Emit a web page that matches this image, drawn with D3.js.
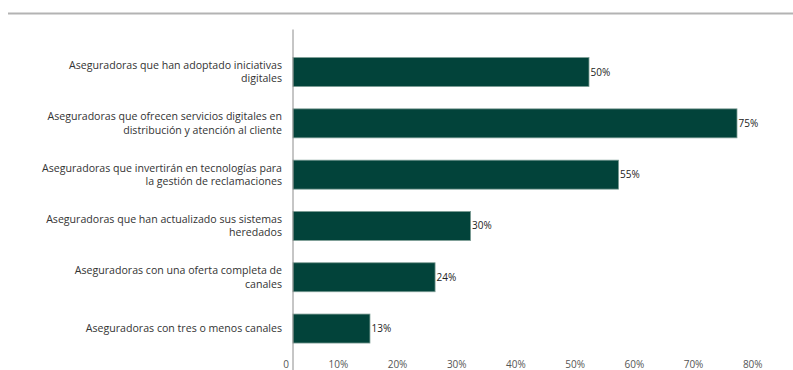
<!DOCTYPE html>
<html>
<head>
<meta charset="utf-8">
<script src="https://cdn.jsdelivr.net/npm/d3@7"></script>
<style>
  body { margin: 0; background: #fff; }
  svg { display: block; font-family: "Open Sans", Lato, sans-serif; }
</style>
</head>
<body>
<svg id="chart" width="793" height="370"></svg>
<script>
// data
const categories = [
  "Aseguradoras que han adoptado iniciativas\ndigitales",
  "Aseguradoras que ofrecen servicios digitales en\ndistribución y atención al cliente",
  "Aseguradoras que invertirán en tecnologías para\nla gestión de reclamaciones",
  "Aseguradoras que han actualizado sus sistemas\nheredados",
  "Aseguradoras con una oferta completa de\ncanales",
  "Aseguradoras con tres o menos canales"
];
const values = [50, 75, 55, 30, 24, 13];
const tickValues = [0, 10, 20, 30, 40, 50, 60, 70, 80];

const svg = d3.select("#chart");
const width = 793, height = 370;

// grey rule at the top
svg.append("line")
  .attr("x1", 8).attr("x2", width)
  .attr("y1", 13.5).attr("y2", 13.5)
  .attr("stroke", "#b3b3b3")
  .attr("stroke-width", 2);

const x = d3.scaleLinear().domain([0, 80]).range([293, 766.6]);
const y = d3.scaleBand()
  .domain(categories)
  .range([46.4, 354.2])
  .paddingInner(0.435)
  .paddingOuter(0.2175);

// bars
svg.selectAll("rect.bar")
  .data(values)
  .enter()
  .append("rect")
  .attr("class", "bar")
  .attr("x", x(0))
  .attr("y", (d, i) => y(categories[i]))
  .attr("width", d => x(d) - x(0))
  .attr("height", y.bandwidth())
  .attr("fill", "#02433a")
  .attr("stroke", "#7d9d95")
  .attr("stroke-width", 0.8);

// value labels
svg.selectAll("text.val")
  .data(values)
  .enter()
  .append("text")
  .attr("class", "val")
  .attr("x", d => x(d) + 1.5)
  .attr("y", (d, i) => y(categories[i]) + y.bandwidth() / 2)
  .attr("dy", "0.35em")
  .attr("font-size", 10)
  .attr("fill", "#222")
  .text(d => d + "%");

// category labels
const lab = svg.selectAll("text.cat")
  .data(categories)
  .enter()
  .append("text")
  .attr("class", "cat")
  .attr("text-anchor", "end")
  .attr("font-size", 10.6)
  .attr("fill", "#333");

lab.each(function(d) {
  const lines = d.split("\n");
  const cy = y(d) + y.bandwidth() / 2;
  const lh = 13.2;
  const t = d3.select(this);
  lines.forEach((ln, k) => {
    t.append("tspan")
      .attr("x", 282)
      .attr("y", cy + (k - (lines.length - 1) / 2) * lh)
      .attr("dy", "0.35em")
      .text(ln);
  });
});

// axis line
svg.append("line")
  .attr("x1", x(0)).attr("x2", x(0))
  .attr("y1", 29.5).attr("y2", height)
  .attr("stroke", "#8c8c8c")
  .attr("stroke-width", 1);

// tick labels (right-aligned just left of each tick position)
svg.selectAll("text.tick")
  .data(tickValues)
  .enter()
  .append("text")
  .attr("class", "tick")
  .attr("x", d => x(d) - 4)
  .attr("y", 364)
  .attr("dy", "0.35em")
  .attr("text-anchor", "end")
  .attr("font-size", 10)
  .attr("fill", "#555")
  .text(d => d === 0 ? "0" : d + "%");
</script>
</body>
</html>
